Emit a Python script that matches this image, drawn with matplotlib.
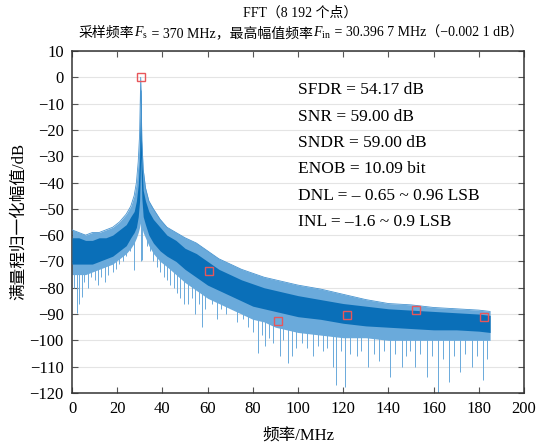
import matplotlib
matplotlib.use("Agg")
import matplotlib.pyplot as plt

plt.rcParams['font.family'] = ['Liberation Serif', 'Noto Sans CJK SC', 'DejaVu Sans']
plt.rcParams['mathtext.fontset'] = 'custom'
plt.rcParams['mathtext.rm'] = 'Liberation Serif'
plt.rcParams['mathtext.it'] = 'Liberation Serif:italic'

# spectrum envelope (MHz, dB)
freq = [0, 3, 6, 9, 12, 15, 18, 21, 24, 26, 27.5, 28.5, 29.3, 29.9, 30.4, 30.9, 31.5,
        32.5, 34, 36, 39, 42, 46, 50, 55, 60, 65, 70, 75, 80, 85, 90, 95, 100, 110,
        120, 130, 140, 150, 160, 170, 180, 185]
upper = [-58, -59, -60, -59, -59, -58, -57, -55, -52, -49, -45, -40, -32, -22, 0, -24, -35,
         -42, -47, -50, -54, -57, -59, -61, -63, -66, -69, -71, -73, -74.5, -76, -77, -78,
         -79, -80.5, -82.5, -84.5, -86, -86.5, -87.5, -88, -88.5, -89]
core_hi = [-61, -61, -62, -62, -61, -61, -60, -58, -56, -53, -51, -47, -41, -31, -4, -32, -43,
           -47, -51, -54, -57, -60, -62, -65, -67, -70, -73, -75, -77, -78.5, -80, -81, -82,
           -83, -84.5, -86, -87, -88, -88.5, -89, -89.5, -90, -90.5]
core_lo = [-71, -71, -71, -71, -70, -69, -68, -66, -64, -61, -59, -57, -53, -47, -30, -46, -53,
           -56, -60, -63, -66, -68, -70, -73, -76, -79, -81, -83, -85, -87, -88, -89, -90,
           -91, -92, -93.5, -94.5, -95, -95.5, -96, -96, -96.5, -97]
lower = [-75, -75, -75, -74, -73, -72, -71, -69, -67, -65, -63, -61, -59, -57, -55, -57, -59,
         -61, -64, -67, -70, -72, -75, -78, -81, -84, -86, -88, -90, -92, -93, -95, -96,
         -97, -98, -99, -99, -100, -100, -100, -100, -100, -100]

# downward spikes: frequency, start (inside band), end
dip_f = [1, 2.1, 3.2, 4.3, 5.5, 7, 8.5, 10, 11.5, 13, 14.5, 16, 18, 19.5, 21, 22.5, 24,
         25.5, 27.5, 30.4, 31.1, 33, 34.5, 36, 37.5, 39, 40.5, 42, 43.5, 45, 46.5, 48,
         49.5, 51.4, 53, 54.5, 56, 57.4, 59, 62, 64, 66, 68, 71, 73, 75.5, 78, 80, 82.4,
         84, 85.4, 87, 89, 92, 93.5, 95.5, 97.2, 99, 101.6, 104, 106.7, 109, 111, 113,
         115.6, 117, 119, 120.8, 123, 126, 128, 131, 133.5, 136, 138, 140.7, 143, 145.9,
         148, 149.5, 151.8, 154, 157, 159.5, 162, 164, 167, 169, 171.7, 174, 176.9, 179,
         182, 183.5]
dip_top = [-71, -71, -71, -71, -71, -71, -71, -71, -70, -70, -69, -69, -68, -67, -66, -65,
           -64, -62, -59, -5, -50, -55, -58, -62, -64, -65, -66, -67, -68, -69, -70, -71,
           -72, -73, -74, -75, -76, -77, -78, -79, -80, -80, -81, -82, -83, -84, -85, -86,
           -87, -87, -88, -88, -88, -89, -89, -90, -90, -90, -91, -91, -91, -91, -92, -92,
           -92, -92, -93, -93, -93, -93, -94, -94, -94, -94, -95, -95, -95, -95, -95, -95,
           -95, -95, -96, -96, -96, -96, -96, -96, -96, -96, -96, -96, -96, -96]
dip_db = [-80, -89.6, -86, -83.5, -78, -80, -76, -77, -79, -76, -78, -75, -74, -73, -71,
          -70, -68, -66, -73.2, -70, -69.5, -64, -66, -70, -72, -74, -76, -77, -79, -80,
          -82, -84, -86, -86.2, -84, -90, -86, -95, -88, -86, -92, -88, -90, -88, -93, -92,
          -95, -97, -104.9, -98, -102.3, -99, -101, -106, -100, -108.6, -106, -103, -101,
          -103, -106, -102, -104, -103, -110, -117, -104, -117.6, -105, -106, -104, -110,
          -105, -108, -104, -113.8, -105, -110.3, -106, -104, -110, -105, -113.8, -106,
          -120, -107, -116, -106, -112, -105, -110, -106, -115, -107]

# harmonics markers
harm_f = [30.4, 60.8, 91.2, 121.6, 152.0, 182.4]
harm_db = [0, -73.5, -92.5, -90.3, -88.4, -91.3]

metrics = ['SFDR = 54.17 dB', 'SNR = 59.00 dB', 'SNDR = 59.00 dB', 'ENOB = 10.09 bit',
           'DNL = – 0.65 ~ 0.96 LSB', 'INL = –1.6 ~ 0.9 LSB']

fig = plt.figure(figsize=(5.41, 4.45), dpi=100)
ax = fig.add_axes([0.1331, 0.1169, 0.8355, 0.7685])

ax.vlines(dip_f, dip_db, dip_top, color='#6aaadb', lw=0.7, zorder=2)
ax.fill_between(freq, lower, upper, color='#6aaadb', lw=0, zorder=2)
ax.fill_between(freq, core_lo, core_hi, color='#0a6fb8', lw=0, zorder=3)
ax.plot(freq, upper, color='#4a95d0', lw=0.6, zorder=3)

ax.plot(harm_f, harm_db, ls='none', marker='s', ms=6, mfc='none', mec='#e8565a',
        mew=1.0, zorder=5)

for i, s in enumerate(metrics):
    ax.text(100, -5 - 10 * i, s, fontsize=12.5, va='center', ha='left', zorder=6)

ax.set_xlim(0, 200)
ax.set_ylim(-120, 10)
ax.set_xticks(range(0, 201, 20))
ax.set_yticks(range(-120, 11, 10))
ax.grid(axis='y', color='#e4e4e4', lw=0.8, zorder=0)
ax.set_axisbelow(True)
ax.tick_params(direction='in', length=4, top=True, right=True, labelsize=12,
               color='#555555', pad=6)
for sp in ax.spines.values():
    sp.set_color('#333333')
    sp.set_linewidth(1.1)

ax.set_xlabel('频率/MHz', fontsize=12)
ax.set_ylabel('满量程归一化幅值/dB', fontsize=12)
ax.xaxis.set_label_coords(0.5, -0.10)
ax.yaxis.set_label_coords(-0.10, 0.5)

# title, two lines; second line pieced together so the CJK text is not parsed as math
fig.text(300 / 541, 1 - 13 / 445, 'FFT（8 192 个点）', ha='center', va='center', fontsize=10)
pieces = ['采样频率', '$F_\\mathrm{s}$', ' = 370 MHz，最高幅值频率', '$F_\\mathrm{in}$',
          ' = 30.396 7 MHz（−0.002 1 dB）']
fig.canvas.draw()
renderer = fig.canvas.get_renderer()
parts = [fig.text(0, 1 - 37 / 445, s, va='baseline', ha='left', fontsize=10) for s in pieces]
widths = [t.get_window_extent(renderer).width for t in parts]
x = 301 - sum(widths) / 2
for t, w in zip(parts, widths):
    t.set_x(x / 541)
    x += w

fig.savefig('out.png', dpi=100)
